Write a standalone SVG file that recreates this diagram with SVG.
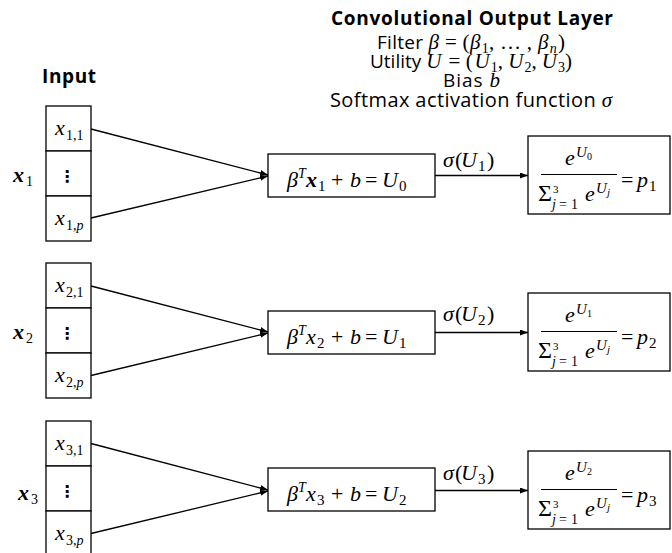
<svg xmlns="http://www.w3.org/2000/svg" width="672" height="553" viewBox="0 0 672 553">
<style>
.box{fill:#fff;stroke:#000;stroke-width:1.3}
.conn{fill:none;stroke:#000;stroke-width:1.3;marker-end:url(#arr)}
.bar{stroke:#000;stroke-width:1.2}
.t{font-family:"Open Sans","Noto Sans",sans-serif;font-size:19px;fill:#000}
.tb{font-family:"Open Sans","Noto Sans",sans-serif;font-size:19px;font-weight:bold;fill:#000}
.m{font-family:"Liberation Serif",serif;font-style:italic;font-size:22px;fill:#000}
.u{font-style:normal}
.b{font-weight:bold}
.h{font-size:21px}
.s15{font-size:15px}
.s14{font-size:14px}
.s11{font-size:11px}
.s10{font-size:10px}
.s24{font-size:24px}
.big{font-size:20px}
.dots{font-family:"DejaVu Sans",sans-serif;font-size:16px;font-weight:bold;fill:#000}
</style>
<defs>
<marker id="arr" viewBox="0 0 8 6" refX="8" refY="3" markerWidth="8" markerHeight="6" markerUnits="userSpaceOnUse" orient="auto"><path d="M0,0 L8,3 L0,6 z" fill="#000"/></marker>
</defs>

<g id="header">
<text class="tb" x="331" y="25" textLength="282" lengthAdjust="spacing">Convolutional Output Layer</text>
<text class="t" x="377" y="49" textLength="188" lengthAdjust="spacing">Filter <tspan class="m h">β</tspan><tspan class="m u h"> = (</tspan><tspan class="m h">β</tspan><tspan class="m u s14" dx="1" dy="4">1</tspan><tspan class="m u h" dy="-4">, … , </tspan><tspan class="m h">β</tspan><tspan class="m s14" dx="1" dy="4">n</tspan><tspan class="m u h" dx="1" dy="-4">)</tspan></text>
<text class="t" x="370" y="68" textLength="202" lengthAdjust="spacing">Utility <tspan class="m h">U</tspan><tspan class="m u h" dx="2"> = (</tspan><tspan class="m h" dx="2">U</tspan><tspan class="m u s14" dx="1" dy="4">1</tspan><tspan class="m u h" dy="-4">, </tspan><tspan class="m h">U</tspan><tspan class="m u s14" dx="1" dy="4">2</tspan><tspan class="m u h" dy="-4">, </tspan><tspan class="m h">U</tspan><tspan class="m u s14" dx="1" dy="4">3</tspan><tspan class="m u h" dy="-4">)</tspan></text>
<text class="t" x="443" y="87" textLength="57" lengthAdjust="spacing">Bias <tspan class="m h">b</tspan></text>
<text class="t big" x="330" y="107" textLength="282" lengthAdjust="spacing">Softmax activation function <tspan class="m h">σ</tspan></text>
<text class="tb" x="42" y="83" textLength="54" lengthAdjust="spacing">Input</text>
</g>

<g id="connectors">
<line class="conn" x1="91" y1="129" x2="268" y2="175"/>
<line class="conn" x1="91" y1="218" x2="268" y2="176"/>
<line class="conn" x1="435" y1="175.5" x2="528" y2="175.5"/>
<line class="conn" x1="91" y1="286" x2="268" y2="332"/>
<line class="conn" x1="91" y1="375.5" x2="268" y2="333"/>
<line class="conn" x1="435" y1="332.5" x2="528" y2="332.5"/>
<line class="conn" x1="91" y1="443.5" x2="268" y2="490"/>
<line class="conn" x1="91" y1="533.5" x2="268" y2="491"/>
<line class="conn" x1="435" y1="490.5" x2="528" y2="490.5"/>
</g>

<!-- Row 1 -->
<g id="input1">
<rect class="box" x="46" y="106" width="45" height="45"/>
<rect class="box" x="46" y="151" width="45" height="45"/>
<rect class="box" x="46" y="196" width="45" height="45"/>
<text class="m" x="55" y="135">x</text><text class="m u s14" x="66" y="140">1,1</text>
<text class="dots" x="67" y="182" text-anchor="middle">⋮</text>
<text class="m" x="55" y="225">x</text><text class="m s14" x="66" y="230"><tspan class="u">1,</tspan>p</text>
<text class="m b" x="13" y="182">x</text><text class="m u s14" x="26" y="186">1</text>
</g>
<g id="lin1">
<rect class="box" x="268" y="154" width="167" height="43"/>
<text class="m" x="287" y="187">β</text><text class="m s14" x="298" y="178">T</text>
<text class="m b" x="306" y="187">x</text><text class="m u s15" x="318" y="191">1</text>
<text class="m u" x="331" y="187">+</text><text class="m" x="350" y="187">b</text>
<text class="m u" x="365" y="187">=</text><text class="m" x="382" y="187">U</text><text class="m u s15" x="399" y="191">0</text>
</g>
<g id="sig1">
<text class="m" x="443" y="167">σ</text><text class="m u" x="455" y="167">(</text><text class="m" x="461" y="167">U</text><text class="m u s15" x="478" y="171">1</text><text class="m u" x="487" y="167">)</text>
</g>
<g id="soft1">
<rect class="box" x="528" y="136" width="142" height="78"/>
<text class="m" x="565" y="165">e</text><text class="m s15" x="576" y="157">U</text><text class="m u s10" x="587" y="160">0</text>
<line class="bar" x1="541" y1="174.5" x2="617" y2="174.5"/>
<text class="m u s24" x="538" y="201">Σ</text><text class="m u s11" x="553" y="193">3</text>
<text class="m s14" x="552" y="209">j</text><text class="m u s14" x="559" y="209">=</text><text class="m u s14" x="571" y="209">1</text>
<text class="m" x="585" y="201">e</text><text class="m s15" x="596" y="193">U</text><text class="m s11" x="607" y="196">j</text>
<text class="m u" x="621" y="187">=</text><text class="m" x="637" y="187">p</text><text class="m u s15" x="649" y="191">1</text>
</g>

<!-- Row 2 -->
<g id="input2" transform="translate(0,157)">
<rect class="box" x="46" y="106" width="45" height="45"/>
<rect class="box" x="46" y="151" width="45" height="45"/>
<rect class="box" x="46" y="196" width="45" height="45"/>
<text class="m" x="55" y="135">x</text><text class="m u s14" x="66" y="140">2,1</text>
<text class="dots" x="67" y="182" text-anchor="middle">⋮</text>
<text class="m" x="55" y="225">x</text><text class="m s14" x="66" y="230"><tspan class="u">2,</tspan>p</text>
<text class="m b" x="13" y="182">x</text><text class="m u s14" x="26" y="186">2</text>
</g>
<g id="lin2" transform="translate(0,157)">
<rect class="box" x="268" y="154" width="167" height="43"/>
<text class="m" x="287" y="187">β</text><text class="m s14" x="298" y="178">T</text>
<text class="m" x="306" y="187">x</text><text class="m u s15" x="317" y="191">2</text>
<text class="m u" x="331" y="187">+</text><text class="m" x="350" y="187">b</text>
<text class="m u" x="365" y="187">=</text><text class="m" x="382" y="187">U</text><text class="m u s15" x="399" y="191">1</text>
</g>
<g id="sig2" transform="translate(0,154)">
<text class="m" x="443" y="167">σ</text><text class="m u" x="455" y="167">(</text><text class="m" x="461" y="167">U</text><text class="m u s15" x="478" y="171">2</text><text class="m u" x="487" y="167">)</text>
</g>
<g id="soft2" transform="translate(0,157)">
<rect class="box" x="528" y="136" width="142" height="78"/>
<text class="m" x="565" y="165">e</text><text class="m s15" x="576" y="157">U</text><text class="m u s10" x="587" y="160">1</text>
<line class="bar" x1="541" y1="174.5" x2="617" y2="174.5"/>
<text class="m u s24" x="538" y="201">Σ</text><text class="m u s11" x="553" y="193">3</text>
<text class="m s14" x="552" y="209">j</text><text class="m u s14" x="559" y="209">=</text><text class="m u s14" x="571" y="209">1</text>
<text class="m" x="585" y="201">e</text><text class="m s15" x="596" y="193">U</text><text class="m s11" x="607" y="196">j</text>
<text class="m u" x="621" y="187">=</text><text class="m" x="637" y="187">p</text><text class="m u s15" x="649" y="191">2</text>
</g>

<!-- Row 3 -->
<g id="input3" transform="translate(0,315)">
<rect class="box" x="46" y="106" width="45" height="45"/>
<rect class="box" x="46" y="151" width="45" height="45"/>
<rect class="box" x="46" y="196" width="45" height="45"/>
<text class="m" x="55" y="135">x</text><text class="m u s14" x="66" y="140">3,1</text>
<text class="dots" x="67" y="182" text-anchor="middle">⋮</text>
<text class="m" x="55" y="225">x</text><text class="m s14" x="66" y="230"><tspan class="u">3,</tspan>p</text>
<text class="m b" x="18" y="185">x</text><text class="m u s14" x="31" y="189">3</text>
</g>
<g id="lin3" transform="translate(0,315)">
<rect class="box" x="268" y="153" width="167" height="43"/>
<text class="m" x="287" y="186">β</text><text class="m s14" x="298" y="177">T</text>
<text class="m" x="306" y="186">x</text><text class="m u s15" x="317" y="190">3</text>
<text class="m u" x="331" y="186">+</text><text class="m" x="350" y="186">b</text>
<text class="m u" x="365" y="186">=</text><text class="m" x="382" y="186">U</text><text class="m u s15" x="399" y="190">2</text>
</g>
<g id="sig3" transform="translate(0,313)">
<text class="m" x="443" y="167">σ</text><text class="m u" x="455" y="167">(</text><text class="m" x="461" y="167">U</text><text class="m u s15" x="478" y="171">3</text><text class="m u" x="487" y="167">)</text>
</g>
<g id="soft3" transform="translate(0,315)">
<rect class="box" x="528" y="136" width="142" height="78"/>
<text class="m" x="565" y="165">e</text><text class="m s15" x="576" y="157">U</text><text class="m u s10" x="587" y="160">2</text>
<line class="bar" x1="541" y1="174.5" x2="617" y2="174.5"/>
<text class="m u s24" x="538" y="201">Σ</text><text class="m u s11" x="553" y="193">3</text>
<text class="m s14" x="552" y="209">j</text><text class="m u s14" x="559" y="209">=</text><text class="m u s14" x="571" y="209">1</text>
<text class="m" x="585" y="201">e</text><text class="m s15" x="596" y="193">U</text><text class="m s11" x="607" y="196">j</text>
<text class="m u" x="621" y="187">=</text><text class="m" x="637" y="187">p</text><text class="m u s15" x="649" y="191">3</text>
</g>
</svg>
